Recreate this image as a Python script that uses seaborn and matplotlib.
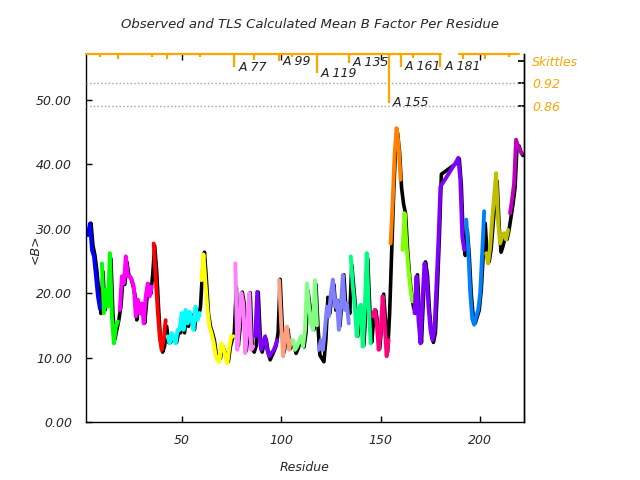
import pandas as pd
import seaborn as sns
import matplotlib.pyplot as plt
from matplotlib.ticker import FormatStrFormatter
from matplotlib.transforms import ScaledTranslation

sns.set_theme(style="white")
plt.rcParams['font.family'] = ['DejaVu Sans']
plt.rcParams['font.style'] = 'italic'
plt.rcParams['font.size'] = 9

# TLS segments: first / last residue and colour
seg_first = [3, 10, 19, 36, 43, 60, 77, 87, 99, 106, 119, 135, 146, 155, 161, 167, 193, 203, 215]
seg_last = [9, 18, 35, 42, 59, 76, 86, 98, 105, 118, 134, 145, 154, 160, 166, 192, 202, 214, 221]
seg_colors = ['#0000ff', '#00ff00', '#ff00ff', '#ff0000', '#00ffff', '#ffff00', '#ff80ff',
              '#8000ff', '#ff9f80', '#80ff80', '#8080ff', '#00ff80', '#ff0080', '#ff8000',
              '#80ff00', '#8000ff', '#0080ff', '#bfbf00', '#bf00bf']
missing = list(range(181, 188))  # chain break

calc_b = [
    [29.0, 30.8, 26.7, 25.7, 22.6, 19.5, 17.6],
    [24.6, 16.9, 20.5, 17.9, 26.2, 16.4, 12.2, 14.8, 15.6],
    [17.4, 22.6, 21.5, 25.7, 22.6, 22.6, 22.1, 21.0, 16.4, 19.0, 16.9, 18.4, 15.3, 19.5, 21.5, 19.5, 21.0],
    [27.7, 22.6, 17.4, 13.3, 11.2, 12.7, 15.8],
    [13.3, 12.2, 13.8, 13.0, 12.2, 14.3, 14.3, 16.9, 14.3, 17.4, 15.3, 17.1, 16.0, 14.3, 17.9, 15.8, 16.9],
    [22.0, 26.0, 21.5, 17.4, 14.8, 13.8, 12.5, 10.5, 9.6, 9.3, 12.2, 11.5, 10.2, 9.1, 11.7, 13.3, 13.3],
    [24.6, 11.2, 15.3, 20.0, 18.4, 10.7, 14.3, 20.0, 11.2, 11.7],
    [13.3, 20.2, 13.3, 11.2, 12.5, 13.3, 11.2, 10.2, 10.7, 11.0, 11.7, 12.7],
    [22.0, 15.3, 10.2, 13.3, 14.8, 11.2, 12.7],
    [12.7, 11.2, 11.7, 12.5, 13.3, 11.7, 14.3, 21.5, 17.9, 15.3, 14.3, 22.0, 15.0],
    [11.2, 12.7, 11.2, 14.3, 17.9, 16.4, 20.0, 22.1, 17.9, 18.9, 14.3, 17.9, 22.8, 17.4, 18.4, 15.3],
    [25.7, 21.0, 17.9, 13.3, 17.4, 18.2, 11.7, 17.4, 26.2, 18.0, 12.2],
    [16.4, 17.4, 15.5, 11.2, 14.0, 19.5, 15.3, 10.2, 12.7],
    [27.7, 34.0, 41.5, 45.6, 43.0, 37.6],
    [26.7, 32.4, 27.2, 23.6, 20.5, 18.7],
    [16.9, 22.6, 15.8, 12.2, 19.0, 24.6, 23.1, 17.9, 14.3, 12.7, 14.3, 21.0, 28.0, 36.5,
     40.4, 41.0, 37.6, 28.8, 26.7],
    [31.4, 26.7, 20.0, 16.0, 15.1, 16.4, 17.4, 20.0, 26.2, 32.7],
    [26.2, 24.6, 27.2, 31.4, 35.0, 38.6, 31.0, 27.7, 28.8, 29.3, 28.3, 29.8],
    [32.4, 34.5, 37.0, 43.8, 42.8, 42.2, 41.7],
]

obs_b = [
    [30.0, 31.0, 27.5, 26.0, 23.5, 20.0, 17.0],
    [23.5, 17.5, 20.0, 18.5, 25.5, 17.0, 13.0, 14.5, 16.0],
    [18.0, 22.0, 21.5, 25.0, 23.0, 22.5, 21.5, 20.0, 16.0, 18.5, 17.0, 18.0, 15.5, 19.0, 21.5, 20.0, 23.0],
    [27.5, 23.5, 17.5, 12.5, 11.0, 12.0, 15.0],
    [12.5, 12.5, 13.5, 12.8, 12.5, 14.0, 14.0, 16.5, 14.0, 17.0, 15.0, 17.0, 15.8, 14.5, 17.5, 16.5, 18.0],
    [23.5, 26.5, 22.0, 17.0, 15.0, 14.0, 12.8, 10.5, 9.8, 10.0, 12.0, 11.2, 10.5, 9.5, 11.8, 13.0, 14.0],
    [21.0, 12.0, 15.0, 20.3, 18.5, 11.2, 14.0, 20.2, 11.5, 11.0],
    [12.0, 20.3, 13.5, 11.0, 12.5, 13.0, 11.0, 9.8, 10.5, 11.2, 12.0, 14.0],
    [22.3, 15.5, 11.0, 13.0, 14.5, 11.5, 12.0],
    [12.0, 10.8, 11.5, 12.5, 13.0, 11.8, 14.0, 20.5, 18.0, 15.5, 14.5, 21.5, 15.0],
    [10.5, 10.0, 9.5, 13.0, 19.5, 17.0, 20.0, 21.5, 17.5, 19.0, 15.0, 18.5, 23.0, 18.0, 18.5, 17.0],
    [24.5, 21.0, 17.5, 13.5, 17.0, 18.0, 12.0, 17.0, 25.5, 18.0, 12.5],
    [16.0, 17.5, 15.5, 11.5, 15.0, 20.0, 15.5, 11.0, 17.0],
    [26.5, 35.5, 42.5, 45.0, 42.0, 36.5],
    [34.0, 32.5, 27.0, 23.0, 20.0, 18.0],
    [17.0, 23.0, 16.0, 12.5, 19.5, 25.0, 23.0, 17.5, 14.0, 12.5, 14.0, 21.0, 29.0, 38.6,
     40.4, 41.0, 37.0, 28.5, 26.0],
    [30.0, 26.0, 20.0, 16.5, 15.5, 16.5, 17.5, 20.5, 26.0, 31.0],
    [26.0, 25.0, 27.0, 31.0, 34.5, 37.5, 30.5, 26.5, 27.5, 28.8, 28.5, 30.0],
    [32.0, 34.0, 36.5, 43.0, 43.0, 42.0, 41.5],
]

# skittles (segment boundary ticks hanging from the top)
skit_res = [9, 18, 35, 42.5, 59.5, 76.5, 86.5, 99, 105.5, 118, 134, 154, 160, 166, 180, 191.5, 202.5, 214.5]
skit_val = [0.991, 0.987, 0.991, 0.987, 0.993, 0.964, 0.984, 0.980, 0.991, 0.948, 0.976, 0.868,
            0.965, 0.988, 0.965, 0.986, 0.987, 0.991]
skit_lab = ['', '', '', '', '', 'A 77', '', 'A 99', '', 'A 119', 'A 135', 'A 155',
            'A 161', '', 'A 181', '', '', '']
skit_runs = [(2.2, 180.3), (189.5, 219.7)]

rows = []
for i in range(len(seg_first)):
    res = [r for r in range(seg_first[i], seg_last[i] + 1) if r not in missing]
    for r, c, o in zip(res, calc_b[i], obs_b[i]):
        rows.append({'residue': r, 'calc': c, 'obs': o, 'segment': f's{i:02d}'})
df = pd.DataFrame(rows)
pal = {f's{i:02d}': c for i, c in enumerate(seg_colors)}

fig = plt.figure(figsize=(6.4, 4.8), dpi=100)
ax = fig.add_axes([86 / 640, 58 / 480, 438 / 640, 368 / 480])

sns.lineplot(data=df, x='residue', y='obs', color='black', lw=2.6,
             estimator=None, sort=False, ax=ax)
# observed line sits a pixel right/below the calculated one
ax.lines[0].set_transform(ax.transData + ScaledTranslation(1 / 100, -1 / 100, fig.dpi_scale_trans))
sns.lineplot(data=df, x='residue', y='calc', hue='segment', palette=pal, lw=2.8,
             estimator=None, sort=False, legend=False, ax=ax)

ax.set_xlim(2, 222)
ax.set_ylim(0, 57.1)
ax.set_xticks([50, 100, 150, 200])
ax.set_yticks([0, 10, 20, 30, 40, 50])
ax.yaxis.set_major_formatter(FormatStrFormatter('%.2f'))
ax.tick_params(direction='in', length=4, width=1, color='black',
               top=True, right=True, bottom=True, left=True, labelsize=9)
ax.tick_params(axis='y', pad=10)
ax.tick_params(axis='x', pad=9)
ax.spines['top'].set_visible(False)
for s in ['left', 'bottom', 'right']:
    ax.spines[s].set_color('black')
    ax.spines[s].set_linewidth(1)
ax.set_xlabel('Residue', fontsize=9, labelpad=10)
ax.set_ylabel('')
fig.text(35 / 640, 1 - 249 / 480, '<B>', rotation=90, ha='center', va='center', fontsize=9)
fig.text(310 / 640, 1 - 25 / 480, 'Observed and TLS Calculated Mean B Factor Per Residue',
         ha='center', va='center', fontsize=9.5)

sk = ax.twinx()
sk.set_ylim(0, 1)
sk.set_xlim(2, 222)
for s in ['top', 'left', 'bottom']:
    sk.spines[s].set_visible(False)
sk.spines['right'].set_color('black')
sk.spines['right'].set_linewidth(1)
sk.axhline(0.92, ls=':', color='#a0a0a0', lw=1)
sk.axhline(0.86, ls=':', color='#a0a0a0', lw=1)
for a, b in skit_runs:
    sk.plot([a, b], [0.999, 0.999], color='#ffa500', lw=1.6, clip_on=False)
sk.vlines(skit_res, skit_val, 1.0, color='#ffa500', lw=1.6)
for r, v, t in zip(skit_res, skit_val, skit_lab):
    if t:
        sk.text(r + 2, v, t, ha='left', va='center', fontsize=9, color='#222222')
sk.set_yticks([0.98, 0.92, 0.86])
sk.set_yticklabels(['Skittles', '0.92', '0.86'])
sk.tick_params(axis='y', direction='in', length=4, color='black', labelcolor='#ffa500',
               labelsize=9, pad=6)

fig.savefig('out.png', dpi=100)
